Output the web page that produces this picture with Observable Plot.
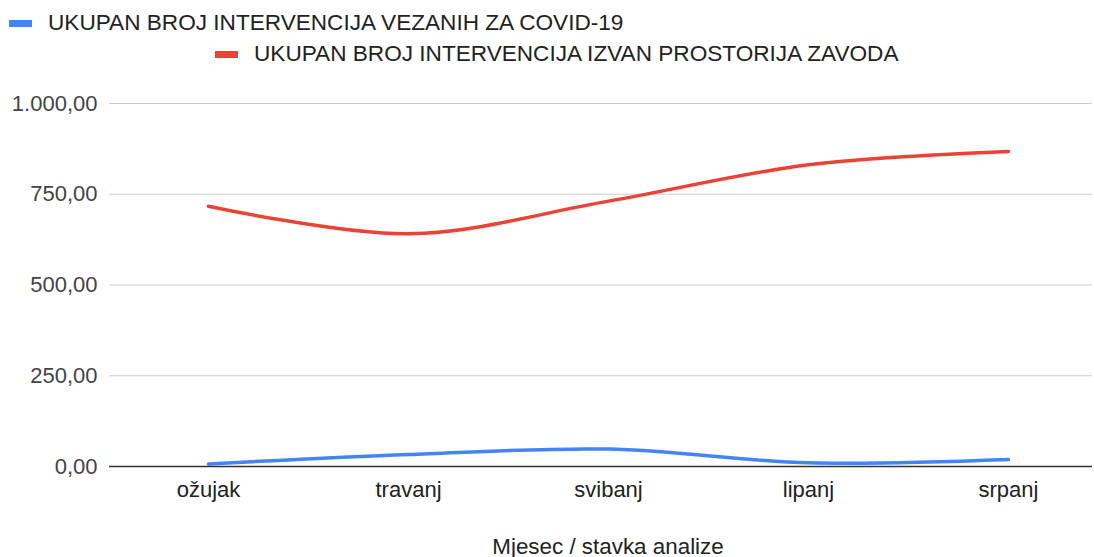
<!DOCTYPE html>
<html>
<head>
<meta charset="utf-8">
<script src="https://cdn.jsdelivr.net/npm/d3@7"></script>
<script src="https://cdn.jsdelivr.net/npm/@observablehq/plot@0.6"></script>
<style>
  html, body { margin: 0; padding: 0; background: #fff; overflow: hidden; }
  body { width: 1094px; height: 557px; font-family: "Liberation Sans", Arial, sans-serif; }
  #legend { position: relative; height: 75px; color: #222; font-size: 22.6px; }
  .item { position: absolute; white-space: nowrap; display: flex; align-items: center; }
  .sw { display: inline-block; width: 23px; height: 7px; margin-right: 16px; }
  #chart svg { display: block; }
</style>
</head>
<body>
<div id="legend"></div>
<div id="chart"></div>
<script>
const months = ["ožujak", "travanj", "svibanj", "lipanj", "srpanj"];
const seriesNames = [
  "UKUPAN BROJ INTERVENCIJA VEZANIH ZA COVID-19",
  "UKUPAN BROJ INTERVENCIJA IZVAN PROSTORIJA ZAVODA"
];
const covidValues = [7, 33, 48, 10, 19];
const outsideValues = [717, 641, 731, 831, 868];
const yTicks = [0, 250, 500, 750, 1000];
const colors = ["#4285F4", "#EA4335"];
const xTitle = "Mjesec / stavka analize";

const data = [];
months.forEach((m, i) => {
  data.push({month: m, series: seriesNames[0], value: covidValues[i]});
  data.push({month: m, series: seriesNames[1], value: outsideValues[i]});
});

const hr = d3.formatLocale({decimal: ",", thousands: ".", grouping: [3], currency: ["", ""]});
const fmt = hr.format(",.2f");

// Legend
const legend = document.getElementById("legend");
const positions = [{left: 9, top: 10}, {left: 215, top: 41}];
seriesNames.forEach((name, i) => {
  const div = document.createElement("div");
  div.className = "item";
  div.style.left = positions[i].left + "px";
  div.style.top = positions[i].top + "px";
  const sw = document.createElement("span");
  sw.className = "sw";
  sw.style.background = colors[i];
  div.appendChild(sw);
  div.appendChild(document.createTextNode(name));
  legend.appendChild(div);
});

const chart = Plot.plot({
  width: 1094,
  height: 482,
  marginLeft: 109,
  marginRight: 2,
  marginTop: 28,
  marginBottom: 91,
  style: {fontFamily: "'Liberation Sans', Arial, sans-serif", fontSize: "22px", color: "#444", background: "#fff"},
  x: {domain: months, type: "point", range: [208, 1008], padding: 0, label: null},
  y: {domain: [0, 1000], label: null},
  color: {domain: seriesNames, range: colors},
  marks: [
    Plot.ruleY(yTicks.filter(d => d !== 0), {stroke: "#ccc", strokeWidth: 1.2}),
    Plot.axisY(yTicks, {tickSize: 0, tickPadding: 12, tickFormat: fmt, fill: "#444", fontSize: 22, label: null}),
    Plot.axisX(months, {tickSize: 0, tickPadding: 15, fill: "#222", fontSize: 22, label: null}),
    Plot.line(data, {x: "month", y: "value", z: "series", stroke: "series", strokeWidth: 3.5, curve: "catmull-rom"}),
    Plot.ruleY([0], {stroke: "#333", strokeWidth: 1.5}),
    Plot.text([xTitle], {frameAnchor: "bottom", text: d => d, dx: 7, dy: 87, fontSize: 22.4, fill: "#222", lineAnchor: "bottom"})
  ]
});
document.getElementById("chart").appendChild(chart);
</script>
</body>
</html>
